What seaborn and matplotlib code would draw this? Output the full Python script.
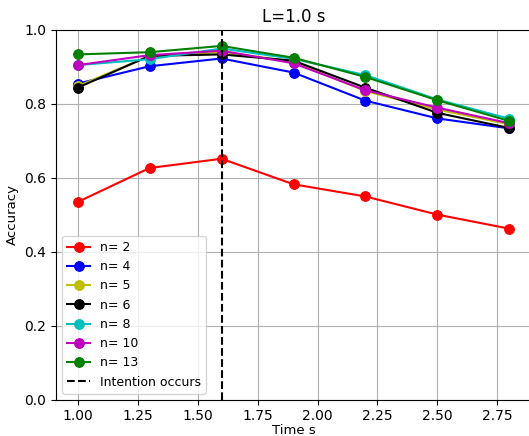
import pandas as pd
import matplotlib
matplotlib.use("Agg")
import matplotlib.pyplot as plt
import seaborn as sns

# values
times = [1.0, 1.3, 1.6, 1.9, 2.2, 2.5, 2.8]
acc_n2 = [0.535, 0.627, 0.652, 0.583, 0.550, 0.501, 0.463]
acc_n4 = [0.855, 0.902, 0.923, 0.885, 0.809, 0.761, 0.734]
acc_n5 = [0.848, 0.930, 0.940, 0.915, 0.835, 0.785, 0.745]
acc_n6 = [0.844, 0.930, 0.934, 0.917, 0.844, 0.776, 0.735]
acc_n8 = [0.905, 0.921, 0.950, 0.922, 0.878, 0.812, 0.760]
acc_n10 = [0.905, 0.932, 0.944, 0.910, 0.837, 0.790, 0.748]
acc_n13 = [0.934, 0.940, 0.957, 0.925, 0.873, 0.810, 0.754]
intention_time = 1.6

series = {
    "n= 2": (acc_n2, "r"),
    "n= 4": (acc_n4, "b"),
    "n= 5": (acc_n5, "y"),
    "n= 6": (acc_n6, "k"),
    "n= 8": (acc_n8, "c"),
    "n= 10": (acc_n10, "m"),
    "n= 13": (acc_n13, "g"),
}

fig = plt.figure(figsize=(5.29, 4.36), dpi=100)
ax = fig.add_axes([0.1059, 0.0826, 0.8979, 0.8486])

for label, (vals, col) in series.items():
    df = pd.DataFrame({"Time": times, "Accuracy": vals})
    sns.lineplot(data=df, x="Time", y="Accuracy", ax=ax, color=col, marker="o",
                 markersize=7, markeredgecolor=col, linewidth=1.5, label=label)

ax.axvline(intention_time, color="k", linestyle="--", linewidth=1.5, label="Intention occurs")

ax.set_ylim(0, 1.0)
ax.set_xlim(0.91, 2.89)
ax.set_xticks([1.0, 1.25, 1.5, 1.75, 2.0, 2.25, 2.5, 2.75])
ax.set_yticks([0.0, 0.2, 0.4, 0.6, 0.8, 1.0])
ax.tick_params(axis="x", pad=3)
ax.grid(True, color="#b0b0b0", linewidth=0.8)
ax.set_xlabel("Time s", fontsize=9.5, labelpad=1)
ax.set_ylabel("Accuracy", fontsize=9.5)
ax.set_title("L=1.0 s")
ax.legend(loc="lower left", fontsize=9, handlelength=1.8)

fig.savefig("out.png", dpi=100)
